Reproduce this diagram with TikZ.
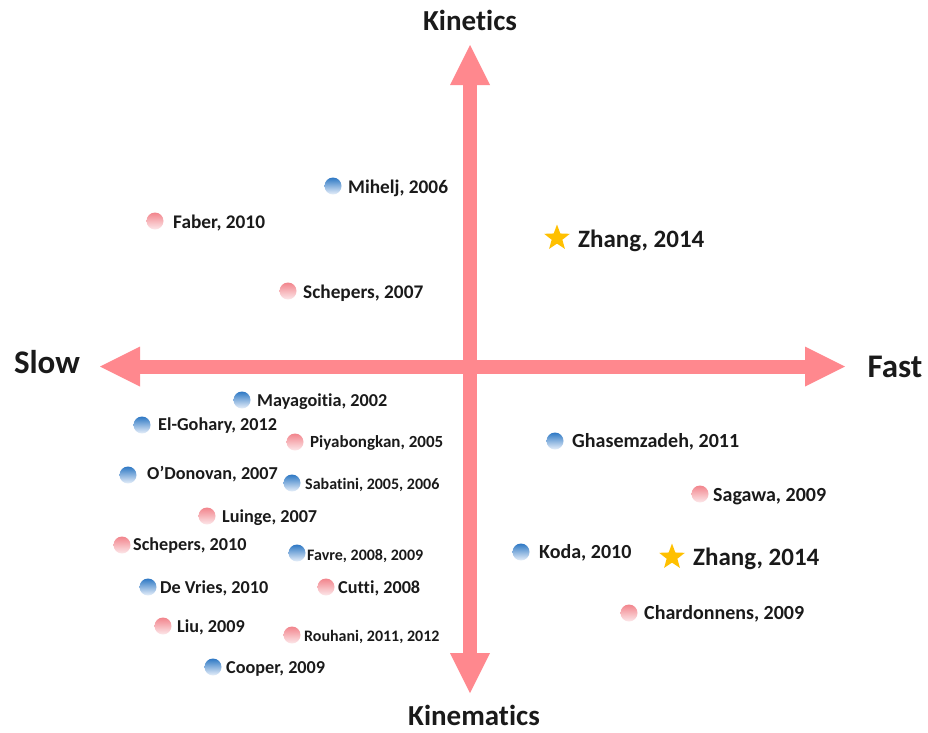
\documentclass[tikz,border=0pt]{standalone}
\usepackage{fontspec}
\setmainfont{Carlito}[Ligatures=NoCommon, RawFeature={-liga;-dlig;-clig}]
\usetikzlibrary{arrows.meta,shapes.geometric}
\definecolor{axispink}{RGB}{255,136,142}
\definecolor{txt}{RGB}{26,26,26}
\definecolor{btop}{RGB}{46,120,196}
\definecolor{bbot}{RGB}{232,240,250}
\definecolor{ptop}{RGB}{242,132,140}
\definecolor{pbot}{RGB}{252,232,234}
\definecolor{gold}{RGB}{255,192,0}
\begin{document}
\begin{tikzpicture}[x=1pt,y=-1pt,
  axis/.style={draw=axispink, line width=14pt,
    {Triangle[length=40pt,width=40pt,line width=0pt]}-{Triangle[length=40pt,width=40pt,line width=0pt]}},
  axlbl/.style={font=\bfseries\fontsize{29}{30}\selectfont, text=txt, inner sep=0pt, text height=18.7pt, text depth=0pt},
  sidelbl/.style={font=\bfseries\fontsize{33}{34}\selectfont, text=txt, inner sep=0pt, text height=21.3pt, text depth=0pt},
  lbl/.style={font=\bfseries\fontsize{19.3}{20}\selectfont, text=txt, inner sep=0pt, text height=12.4pt, text depth=0pt, anchor=west},
  lbll/.style={lbl, font=\bfseries\fontsize{18.2}{19}\selectfont, text height=11.7pt},
  lblr/.style={lbl, font=\bfseries\fontsize{20}{21}\selectfont, text height=12.9pt},
  slbl/.style={font=\bfseries\fontsize{16}{17}\selectfont, text=txt, inner sep=0pt, text height=10.3pt, text depth=0pt, anchor=west},
  zlbl/.style={font=\bfseries\fontsize{25}{26}\selectfont, text=txt, inner sep=0pt, text height=16.1pt, text depth=0pt, anchor=west},
  dotbase/.style={circle, minimum size=17pt, inner sep=0pt, draw=none},
  bdot/.style={dotbase, top color=btop, bottom color=bbot},
  pdot/.style={dotbase, top color=ptop, bottom color=pbot},
  zstar/.style={star, star points=5, star point ratio=2.4, minimum size=27pt, inner sep=0pt, fill=gold, draw=none}
]
\useasboundingbox (0,0) rectangle (928,732);

% axes
\coordinate (L) at (100,366.5);
\coordinate (R) at (845,366.5);
\coordinate (T) at (470,45);
\coordinate (B) at (470,693);
\draw[axis] (L) -- (R);
\draw[axis] (B) -- (T);

\node[axlbl] (kin) at (470,21) {Kinetics};
\node[axlbl] (kinem) at (474,716.5) {Kinematics};
\node[sidelbl] (slow) at (47,363) {Slow};
\node[sidelbl] (fast) at (895,367) {Fast};

% upper left
\node[bdot] (d1) at (333,186) {};
\node[lbl] (l1) at (348,187) {Mihelj, 2006};
\node[pdot] (d2) at (155,221) {};
\node[lbl] (l2) at (173,222) {Faber, 2010};
\node[pdot] (d3) at (288,291) {};
\node[lbl] (l3) at (303,292) {Schepers, 2007};

% upper right
\node[zstar] (s1) at (557,238) {};
\node[zlbl] (z1) at (578,239) {Zhang, 2014};

% lower left
\node[bdot] (d4) at (242,400) {};
\node[lbll] (l4) at (257,401) {Mayagoitia, 2002};
\node[bdot] (d5) at (142,425) {};
\node[lbll] (l5) at (158,425) {El-Gohary, 2012};
\node[pdot] (d6) at (295,442) {};
\node[slbl, font=\bfseries\fontsize{17}{18}\selectfont, text height=10.9pt] (l6) at (310,442) {Piyabongkan, 2005};
\node[bdot] (d7) at (128,475) {};
\node[lbll] (l7) at (147,474) {O’Donovan, 2007};
\node[bdot] (d8) at (292,483) {};
\node[slbl] (l8) at (305,484) {Sabatini, 2005, 2006};
\node[pdot] (d9) at (207,516) {};
\node[lbll] (l9) at (222,517) {Luinge, 2007};
\node[pdot] (d10) at (122,545) {};
\node[lbll] (l10) at (133,545) {Schepers, 2010};
\node[bdot] (d11) at (297,553) {};
\node[slbl] (l11) at (307,555) {Favre, 2008, 2009};
\node[bdot] (d12) at (148,587) {};
\node[lbll] (l12) at (160,588) {De Vries, 2010};
\node[pdot] (d13) at (326,587) {};
\node[lbll] (l13) at (338,588) {Cutti, 2008};
\node[pdot] (d14) at (163,626) {};
\node[lbll] (l14) at (177,627) {Liu, 2009};
\node[pdot] (d15) at (292,635) {};
\node[slbl] (l15) at (304,636) {Rouhani, 2011, 2012};
\node[bdot] (d16) at (213,667) {};
\node[lbll] (l16) at (226,668) {Cooper, 2009};

% lower right
\node[bdot] (d17) at (555,441) {};
\node[lblr] (l17) at (572,441) {Ghasemzadeh, 2011};
\node[pdot] (d18) at (700,494) {};
\node[lblr] (l18) at (713,495) {Sagawa, 2009};
\node[bdot] (d19) at (521,552) {};
\node[lblr] (l19) at (539,552) {Koda, 2010};
\node[zstar] (s2) at (672,557) {};
\node[zlbl] (z2) at (693,557) {Zhang, 2014};
\node[pdot] (d20) at (629,613) {};
\node[lblr] (l20) at (644,613) {Chardonnens, 2009};
\end{tikzpicture}
\end{document}
